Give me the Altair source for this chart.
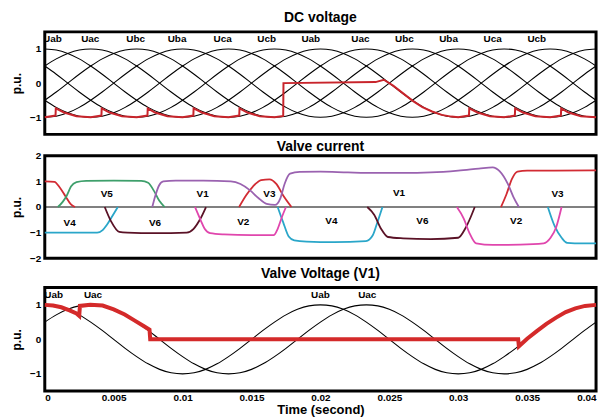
import altair as alt
import pandas as pd

# ---------------- data ----------------
# sample times (ms) for the sinusoidal line-to-line voltages
sample_t = [0, 0.833, 1.667, 2.5, 3.333, 4.167, 5, 5.833, 6.667, 7.5, 8.333, 9.167,
            10, 10.833, 11.667, 12.5, 13.333, 14.167, 15, 15.833, 16.667, 17.5, 18.333, 19.167,
            20, 20.833, 21.667, 22.5, 23.333, 24.167, 25, 25.833, 26.667, 27.5, 28.333, 29.167,
            30, 30.833, 31.667, 32.5, 33.333, 34.167, 35, 35.833, 36.667, 37.5, 38.333, 39.167, 40]
# one cycle of a line voltage read every 15 degrees (p.u.)
cycle_v = [1.0, 0.97, 0.87, 0.71, 0.5, 0.26, 0.0, -0.26, -0.5, -0.71, -0.87, -0.97,
           -1.0, -0.97, -0.87, -0.71, -0.5, -0.26, 0.0, 0.26, 0.5, 0.71, 0.87, 0.97]
phase_names = ["Uab", "Uac", "Ubc", "Uba", "Uca", "Ucb"]
phase_lag = [0, 4, 8, 12, 16, 20]  # lag of each voltage, in 15-degree samples

top_labels = ["Uab", "Uac", "Ubc", "Uba", "Uca", "Ucb", "Uab", "Uac", "Ubc", "Uba", "Uca", "Ucb"]
top_label_t = [0.55, 3.3, 6.6, 9.6, 12.9, 16.1, 19.3, 22.9, 26.1, 29.3, 32.5, 35.7]

dc_t = [0, 0.78, 0.8, 1.4, 2.3, 3.33, 4.11, 4.13, 4.7, 5.6, 6.67, 7.45, 7.47, 8.0, 8.9,
        10.0, 10.78, 10.8, 11.4, 12.3, 13.33, 14.11, 14.13, 14.7, 15.6, 16.67, 17.3, 17.32,
        24.0, 24.6, 25.3, 26.0, 26.7, 27.4, 28.1, 28.8, 29.5, 30.0, 30.78, 30.8, 31.4, 32.3,
        33.33, 34.11, 34.13, 34.7, 35.6, 36.67, 37.45, 37.47, 38.0, 38.9, 40.0]
dc_v = [-1.0, -0.95, -0.74, -0.86, -0.97, -1.0, -0.95, -0.74, -0.86, -0.97, -1.0, -0.95, -0.74, -0.86, -0.97,
        -1.0, -0.95, -0.74, -0.86, -0.97, -1.0, -0.95, -0.74, -0.86, -0.97, -1.0, -0.96, 0.0,
        0.03, 0.1, -0.08, -0.3, -0.52, -0.7, -0.83, -0.93, -0.98, -1.0, -0.95, -0.74, -0.86, -0.97,
        -1.0, -0.95, -0.74, -0.86, -0.97, -1.0, -0.95, -0.74, -0.86, -0.97, -1.0]

# valve currents (ms, p.u.) -- each list is one conduction interval
cur_red1_t = [0, 0.7, 1.1, 1.5, 1.9, 2.2]
cur_red1_v = [1.0, 0.98, 0.75, 0.42, 0.1, 0.0]
cur_red2_t = [14.1, 14.6, 15.1, 15.7, 16.3, 16.8, 17.3, 17.9]
cur_red2_v = [0.0, 0.45, 0.8, 1.05, 1.08, 0.9, 0.45, 0.0]
cur_red3_t = [33.1, 33.5, 33.9, 34.3, 35.0, 37.0, 40.0]
cur_red3_v = [0.0, 0.5, 1.1, 1.38, 1.42, 1.42, 1.43]
cur_green_t = [0.95, 1.3, 1.6, 1.9, 2.3, 3.0, 5.0, 7.0, 7.5, 7.9, 8.3, 8.7]
cur_green_v = [0.0, 0.2, 0.45, 0.8, 0.97, 1.02, 1.03, 1.02, 0.95, 0.65, 0.25, 0.0]
cur_purple_t = [7.8, 8.0, 8.3, 8.6, 9.5, 11.5, 13.5, 14.2, 14.9, 15.5, 16.1, 16.7, 17.1, 17.4,
                17.8, 18.5, 20, 22, 24, 26, 28, 30, 31.5, 32.5, 33.0, 33.6, 34.0, 34.4]
cur_purple_v = [0.0, 0.4, 0.85, 1.0, 1.03, 1.03, 1.0, 0.9, 0.65, 0.35, 0.12, 0.08, 0.35, 0.9,
                1.3, 1.37, 1.38, 1.35, 1.33, 1.33, 1.35, 1.42, 1.5, 1.55, 1.4, 0.9, 0.4, 0.0]
cur_cyan1_t = [0, 2, 3.8, 4.2, 4.5, 4.85, 5.3]
cur_cyan1_v = [-1.0, -1.0, -1.0, -0.9, -0.7, -0.4, 0.0]
cur_cyan2_t = [16.9, 17.3, 17.7, 18.1, 19, 21, 23.3, 23.8, 24.1, 24.5]
cur_cyan2_v = [0.0, -0.6, -1.15, -1.3, -1.35, -1.37, -1.33, -1.1, -0.65, 0.0]
cur_cyan3_t = [36.5, 37.0, 37.5, 37.9, 39, 40]
cur_cyan3_v = [0.0, -0.75, -1.2, -1.4, -1.42, -1.42]
cur_maroon1_t = [4.35, 4.8, 5.4, 6, 8, 10.3, 10.8, 11.3, 11.7]
cur_maroon1_v = [0.0, -0.55, -0.97, -1.0, -1.02, -1.0, -0.85, -0.45, 0.0]
cur_maroon2_t = [23.4, 23.9, 24.4, 24.9, 26, 28, 30.0, 30.5, 30.9, 31.2]
cur_maroon2_v = [0.0, -0.3, -0.85, -1.17, -1.22, -1.25, -1.2, -0.85, -0.4, 0.0]
cur_mag1_t = [10.9, 11.3, 11.6, 12.0, 13, 15, 16.6, 16.9, 17.2, 17.5]
cur_mag1_v = [0.0, -0.5, -0.85, -1.02, -1.07, -1.1, -1.1, -0.85, -0.4, 0.0]
cur_mag2_t = [29.9, 30.4, 30.8, 31.3, 32.5, 34.5, 36.2, 36.7, 37.1, 37.5]
cur_mag2_v = [0.0, -0.45, -1.0, -1.42, -1.48, -1.47, -1.42, -1.2, -0.8, 0.0]

valve_labels = ["V5", "V1", "V3", "V1", "V3", "V4", "V6", "V2", "V4", "V6", "V2"]
valve_label_t = [4.5, 11.45, 16.3, 25.7, 37.2, 1.8, 8.0, 14.4, 20.8, 27.4, 34.2]
valve_label_v = [0.5, 0.52, 0.49, 0.56, 0.49, -0.63, -0.63, -0.59, -0.55, -0.55, -0.55]

v1_t = [0, 0.6, 1.2, 1.8, 2.3, 2.5, 2.55, 3.3, 4.2, 5.0, 5.8, 6.5, 7.2, 7.6, 7.65, 20,
        34.35, 34.4, 35.0, 35.7, 36.4, 37.1, 37.8, 38.5, 39.2, 40]
v1_v = [1.0, 0.98, 0.93, 0.84, 0.75, 0.68, 0.97, 1.0, 0.98, 0.87, 0.72, 0.55, 0.38, 0.28, 0.0, 0.0,
        0.0, -0.2, 0.02, 0.24, 0.45, 0.63, 0.79, 0.9, 0.97, 1.0]
bottom_labels = ["Uab", "Uac", "Uab", "Uac"]
bottom_label_t = [0.65, 3.5, 20.0, 23.4]

# ---------------- tables ----------------
rows = []
for name, lag in zip(phase_names, phase_lag):
    for i, t in enumerate(sample_t):
        rows.append({"t": t, "v": cycle_v[(i - lag) % 24], "s": name})
sines = pd.DataFrame(rows)
sines_bottom = sines[sines["s"].isin(["Uab", "Uac"])]

top_lab = pd.DataFrame({"t": top_label_t, "v": [1.28] * len(top_labels), "label": top_labels})
dc = pd.DataFrame({"t": dc_t, "v": dc_v})

segs = [("red1", "V3", cur_red1_t, cur_red1_v), ("red2", "V3", cur_red2_t, cur_red2_v),
        ("red3", "V3", cur_red3_t, cur_red3_v), ("green", "V5", cur_green_t, cur_green_v),
        ("purple", "V1", cur_purple_t, cur_purple_v), ("cyan1", "V4", cur_cyan1_t, cur_cyan1_v),
        ("cyan2", "V4", cur_cyan2_t, cur_cyan2_v), ("cyan3", "V4", cur_cyan3_t, cur_cyan3_v),
        ("maroon1", "V6", cur_maroon1_t, cur_maroon1_v), ("maroon2", "V6", cur_maroon2_t, cur_maroon2_v),
        ("mag1", "V2", cur_mag1_t, cur_mag1_v), ("mag2", "V2", cur_mag2_t, cur_mag2_v)]
crow = []
for seg, valve, ts, vs in segs:
    for t, v in zip(ts, vs):
        crow.append({"t": t, "v": v, "seg": seg, "valve": valve})
cur = pd.DataFrame(crow)
vlab = pd.DataFrame({"t": valve_label_t, "v": valve_label_v, "label": valve_labels})

v1 = pd.DataFrame({"t": v1_t, "v": v1_v})
blab = pd.DataFrame({"t": bottom_label_t, "v": [1.3] * 4, "label": bottom_labels})

# ---------------- chart ----------------
W = 554
FONT = "Liberation Sans"
xs = alt.Scale(domain=[0, 40], nice=False, zero=False)

x_none = alt.X("t:Q", scale=xs, axis=None)
x_time = alt.X("t:Q", scale=xs, axis=alt.Axis(
    values=[0, 5, 10, 15, 20, 25, 30, 35, 40], labelExpr="datum.value / 1000",
    title="Time (second)", titleFontSize=13, labelPadding=1, titlePadding=2))


def Y(domain, values):
    return alt.Y("v:Q", scale=alt.Scale(domain=domain, nice=False, zero=False),
                 axis=alt.Axis(values=values, title="p.u.", labelPadding=4,
                               titlePadding=6, titleFontSize=12))


def title(text, offset):
    return alt.TitleParams(text, font=FONT, fontSize=14, fontWeight="bold", offset=offset,
                           anchor="middle", color="black")


# top panel
y1 = Y([-1.5, 1.5], [-1, 0, 1])
top_sines = alt.Chart(sines).mark_line(color="black", strokeWidth=1.1, interpolate="monotone").encode(
    x=x_none, y=y1, detail="s:N")
top_dc = alt.Chart(dc).mark_line(color="#c8242b", strokeWidth=2).encode(x=x_none, y=y1)
top_txt = alt.Chart(top_lab).mark_text(font=FONT, fontSize=10, fontWeight="bold", clip=True,
                                       color="black").encode(x=x_none, y=y1, text="label:N")
p1 = alt.layer(top_sines, top_dc, top_txt).properties(width=W, height=103, title=title("DC voltage", 6.5))

# middle panel
y2 = Y([-2, 2], [-2, -1, 0, 1, 2])
zero = alt.Chart(pd.DataFrame({"t": [0, 40], "v": [0, 0]})).mark_line(color="black", strokeWidth=1).encode(
    x=x_none, y=y2)
cur_lines = alt.Chart(cur).mark_line(strokeWidth=1.8, interpolate="monotone").encode(
    x=x_none, y=y2, detail="seg:N",
    color=alt.Color("valve:N", legend=None,
                    scale=alt.Scale(domain=["V1", "V2", "V3", "V4", "V5", "V6"],
                                    range=["#9a62b0", "#e046ad", "#d22b33", "#2aa6c9", "#3e9f6b", "#5a1226"])))
cur_txt = alt.Chart(vlab).mark_text(font=FONT, fontSize=10, fontWeight="bold", color="black").encode(
    x=x_none, y=y2, text="label:N")
p2 = alt.layer(zero, cur_lines, cur_txt).properties(width=W, height=103, title=title("Valve current", -3))

# bottom panel
y3 = Y([-1.5, 1.5], [-1, 0, 1])
bot_sines = alt.Chart(sines_bottom).mark_line(color="black", strokeWidth=1.1, interpolate="monotone").encode(
    x=x_time, y=y3, detail="s:N")
bot_v1 = alt.Chart(v1).mark_line(color="#d42a2a", strokeWidth=4).encode(x=x_time, y=y3)
bot_txt = alt.Chart(blab).mark_text(font=FONT, fontSize=10, fontWeight="bold", clip=True,
                                    color="black").encode(x=x_time, y=y3, text="label:N")
p3 = alt.layer(bot_sines, bot_v1, bot_txt).properties(width=W, height=104,
                                                      title=title("Valve Voltage (V1)", 6.5))

inner = alt.vconcat(p1, p2, spacing=1.5)
chart = alt.vconcat(inner, p3, spacing=1).properties(
    padding={"left": 9, "top": 9, "right": 0, "bottom": 0}
).configure_view(stroke="black", strokeWidth=3).configure_axis(
    labelFont=FONT, labelFontSize=10, labelFontWeight="bold", labelColor="black",
    titleFont=FONT, titleFontWeight="bold", titleColor="black",
    grid=False, domain=False, ticks=False
)

chart.save("out.html", embed_options={"renderer": "svg", "actions": False})
